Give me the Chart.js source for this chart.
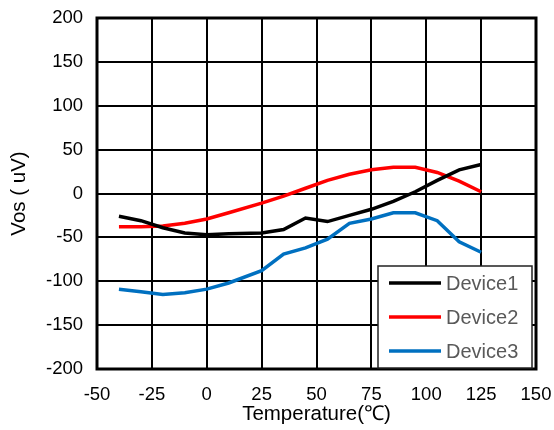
<!DOCTYPE html>
<html>
<head>
<meta charset="utf-8">
<script src="https://cdn.jsdelivr.net/npm/chart.js@4.4.0/dist/chart.umd.min.js"></script>
<style>
  html, body { margin: 0; padding: 0; background: #fff; }
  #wrap { width: 554px; height: 430px; }
</style>
</head>
<body>
<div id="wrap"><canvas id="vosChart" width="554" height="430"></canvas></div>
<script>
// temperature points (°C)
const temps = [-40, -30, -20, -10, 0, 10, 25, 35, 45, 55, 65, 75, 85, 95, 105, 115, 125];

// Vos (uV) per device
const device1 = [-26, -31, -39, -45, -47, -46, -45, -41, -28, -32, -25, -18, -9, 2, 15, 27, 33];
const device2 = [-38, -38, -37, -34, -29, -22, -11, -3, 6, 15, 22, 27, 30, 30, 24, 14, 2];
const device3 = [-109, -112, -115, -113, -109, -102, -88, -69, -62, -52, -34, -29, -22, -22, -31, -55, -67];

const seriesNames = ['Device1', 'Device2', 'Device3'];
const seriesColors = ['#000000', '#FF0000', '#0070C0'];

const xMin = -50, xMax = 150, xStep = 25;
const yMin = -200, yMax = 200, yStep = 50;

const FONT = "'Liberation Sans', Arial, sans-serif";

function toPoints(vals) {
  return temps.map((t, i) => ({ x: t, y: vals[i] }));
}

// thick frame round the plot area
const framePlugin = {
  id: 'frame',
  afterDatasetsDraw(chart) {
    const { ctx, chartArea: a } = chart;
    ctx.save();
    ctx.strokeStyle = '#000';
    ctx.lineWidth = 3;
    ctx.strokeRect(a.left, a.top, a.right - a.left, a.bottom - a.top);
    ctx.restore();
  }
};

// legend box sitting inside the plot, bottom right
const boxLegend = {
  id: 'boxLegend',
  afterDraw(chart) {
    const { ctx, chartArea: a } = chart;
    const w = 154, h = 102;
    const x = a.right - 158, y = a.bottom - 103;
    ctx.save();
    ctx.fillStyle = '#fff';
    ctx.fillRect(x, y, w, h);
    ctx.strokeStyle = '#222';
    ctx.lineWidth = 1.5;
    ctx.strokeRect(x, y, w, h);
    ctx.font = '20px ' + FONT;
    ctx.textBaseline = 'middle';
    chart.data.datasets.forEach((ds, i) => {
      const ry = y + 17 + i * 34;
      ctx.strokeStyle = ds.borderColor;
      ctx.lineWidth = 3.5;
      ctx.beginPath();
      ctx.moveTo(x + 11, ry);
      ctx.lineTo(x + 63, ry);
      ctx.stroke();
      ctx.fillStyle = '#595959';
      ctx.fillText(ds.label, x + 68, ry + 1);
    });
    ctx.restore();
  }
};

new Chart(document.getElementById('vosChart'), {
  type: 'line',
  data: {
    datasets: [device1, device2, device3].map((vals, i) => ({
      label: seriesNames[i],
      data: toPoints(vals),
      borderColor: seriesColors[i],
      backgroundColor: seriesColors[i],
      borderWidth: 3.5,
      pointRadius: 0,
      tension: 0,
      fill: false
    }))
  },
  options: {
    responsive: false,
    animation: false,
    layout: { padding: { top: 18, right: 18, left: 0, bottom: 0 } },
    plugins: {
      legend: { display: false },
      tooltip: { enabled: false }
    },
    scales: {
      x: {
        type: 'linear',
        min: xMin, max: xMax,
        ticks: { stepSize: xStep, color: '#000', font: { family: FONT, size: 18.5 }, padding: 15, maxRotation: 0 },
        grid: { color: '#000', lineWidth: 2, drawTicks: false },
        border: { display: false },
        title: { display: true, text: 'Temperature(℃)', color: '#000', font: { family: FONT, size: 20.5 }, padding: { top: 0, bottom: 3 } },
        afterFit(scale) {
          scale.height = 61;
          scale.paddingLeft = 0;
          scale.paddingRight = 0;
        }
      },
      y: {
        min: yMin, max: yMax,
        ticks: { stepSize: yStep, color: '#000', font: { family: FONT, size: 18.5 }, padding: 14 },
        grid: { color: '#000', lineWidth: 2, drawTicks: false },
        border: { display: false },
        title: { display: true, text: 'Vos ( uV)', color: '#000', font: { family: FONT, size: 20.5 }, padding: { top: 7, bottom: 0 } },
        afterFit(scale) {
          scale.width = 97;
          scale.paddingTop = 0;
          scale.paddingBottom = 0;
        }
      }
    }
  },
  plugins: [framePlugin, boxLegend]
});
</script>
</body>
</html>
